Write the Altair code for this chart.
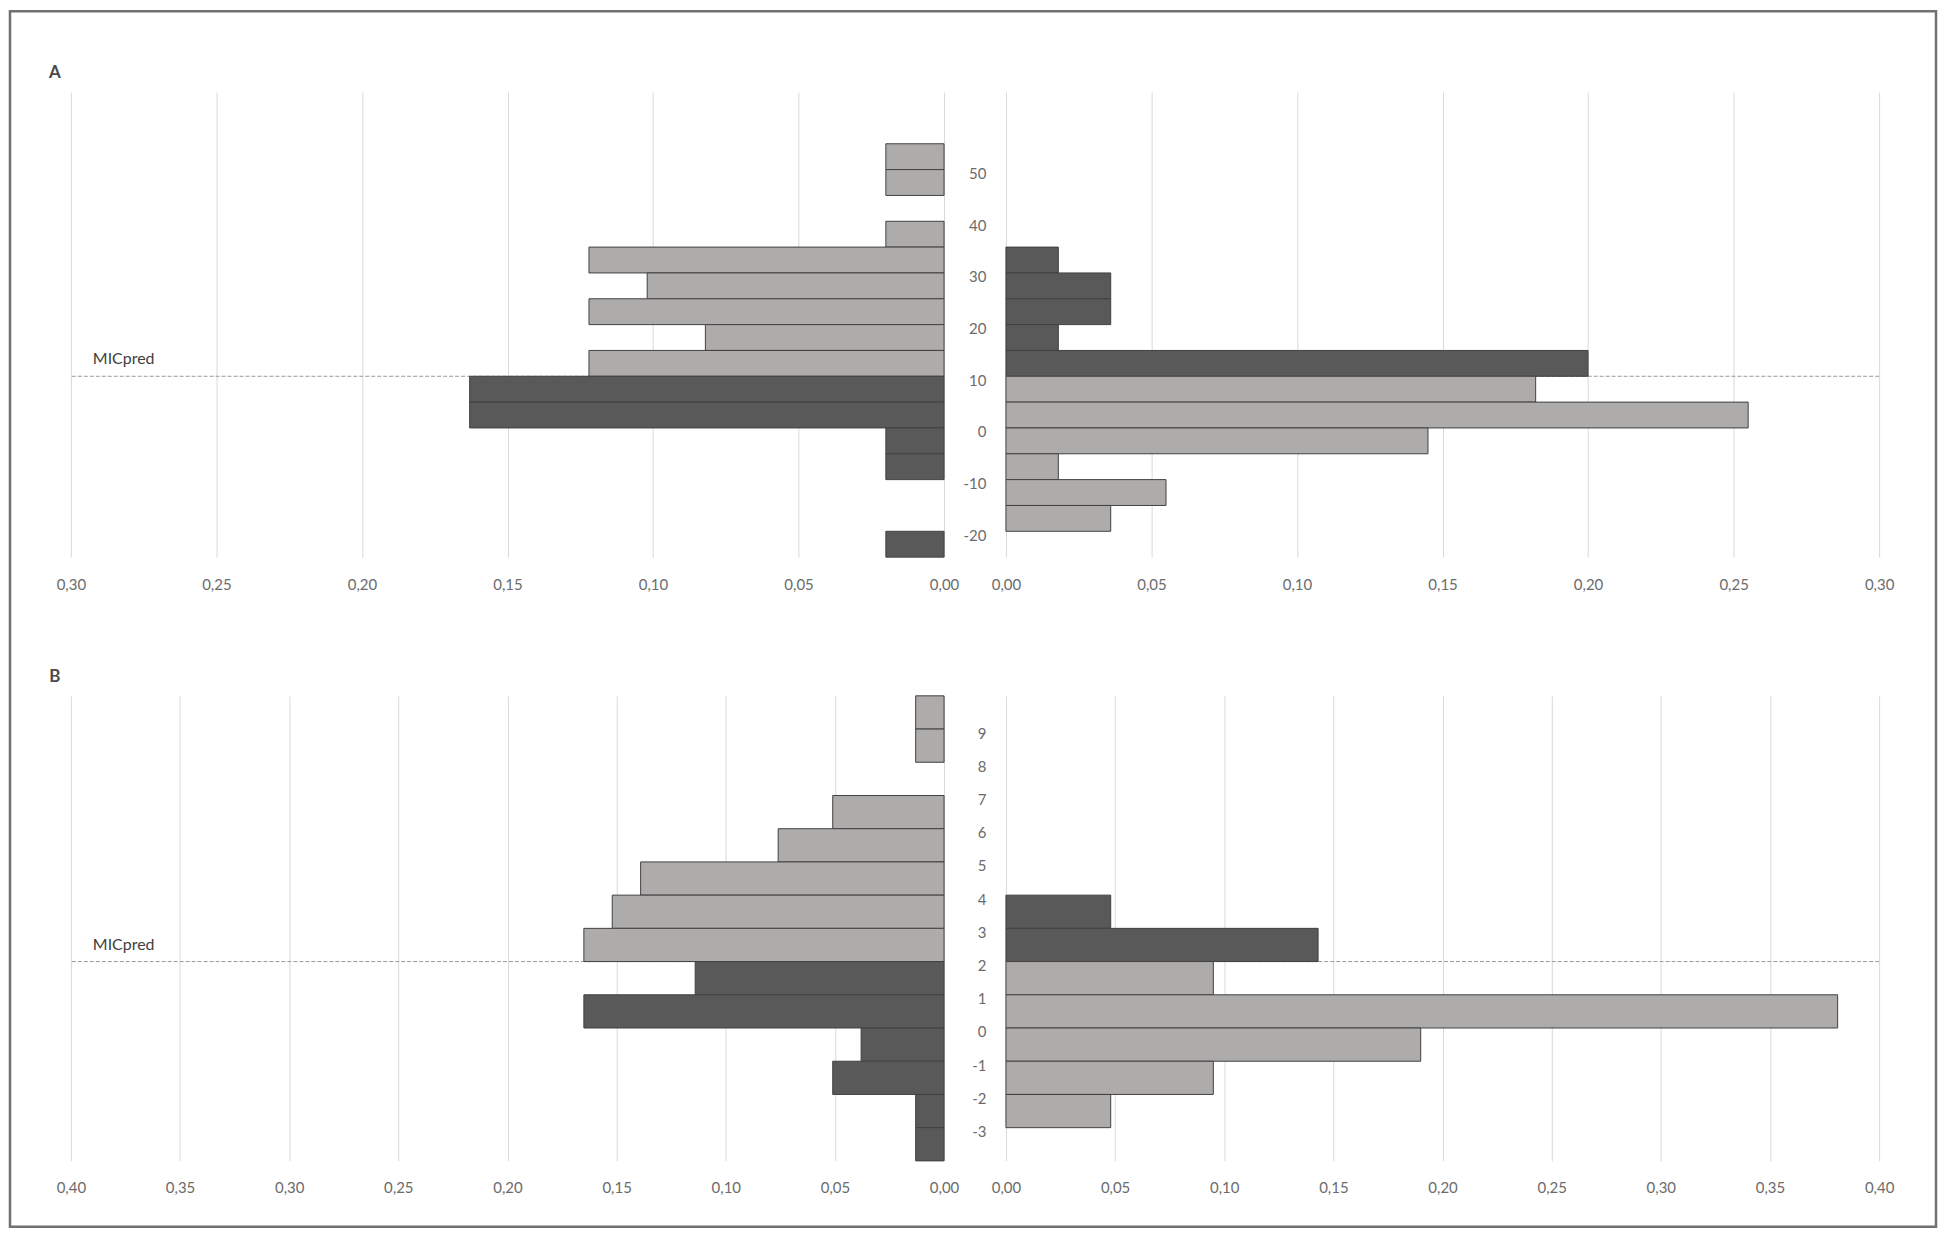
import altair as alt
import pandas as pd

# ---------------- data ----------------
# Panel A: bins of width 5, lower edges (top to bottom)
a_bin_low = [50, 45, 40, 35, 30, 25, 20, 15, 10, 5, 0, -5, -10, -15, -20, -25]
a_left = [0.020, 0.020, 0.0, 0.020, 0.122, 0.102, 0.122, 0.082, 0.122,
          0.163, 0.163, 0.020, 0.020, 0.0, 0.0, 0.020]
a_right = [0.0, 0.0, 0.0, 0.0, 0.018, 0.036, 0.036, 0.018, 0.200,
           0.182, 0.255, 0.145, 0.018, 0.055, 0.036, 0.0]
a_bin_width = 5
a_mic = 10
a_y_domain = [-25, 65]
a_y_ticks = [-20, -10, 0, 10, 20, 30, 40, 50]
a_x_ticks = [0.00, 0.05, 0.10, 0.15, 0.20, 0.25, 0.30]

# Panel B: bins of width 1, lower edges (top to bottom)
b_bin_low = [9, 8, 7, 6, 5, 4, 3, 2, 1, 0, -1, -2, -3, -4]
b_left = [0.013, 0.013, 0.0, 0.051, 0.076, 0.139, 0.152, 0.165, 0.114,
          0.165, 0.038, 0.051, 0.013, 0.013]
b_right = [0.0, 0.0, 0.0, 0.0, 0.0, 0.0, 0.048, 0.143, 0.095,
           0.381, 0.190, 0.095, 0.048, 0.0]
b_bin_width = 1
b_mic = 2
b_y_domain = [-4, 10]
b_y_ticks = [-3, -2, -1, 0, 1, 2, 3, 4, 5, 6, 7, 8, 9]
b_x_ticks = [0.00, 0.05, 0.10, 0.15, 0.20, 0.25, 0.30, 0.35, 0.40]

panel_names = ["A", "B"]
mic_label = "MICpred"

# ---------------- styling ----------------
W, H = 875, 466
LIGHT, DARK = "#AEABAB", "#595959"
FONT = "Lato"
LABEL_COLOR = "#6b6b6b"


def make_side(bins, vals, width, mic, side, x_ticks, y_domain, y_ticks,
              panel=None, border=False):
    rows = []
    for lo, v in zip(bins, vals):
        if v <= 0:
            continue
        above = lo >= mic
        if side == "left":
            shade = "light" if above else "dark"
        else:
            shade = "dark" if above else "light"
        rows.append({"lo": lo, "hi": lo + width, "value": v, "zero": 0.0,
                     "shade": shade})
    df = pd.DataFrame(rows)

    xscale = alt.Scale(domain=[0, x_ticks[-1]], nice=False, zero=True,
                       reverse=(side == "left"))
    xaxis = alt.Axis(values=x_ticks, title=None,
                     labelExpr="replace(format(datum.value, '.2f'), '.', ',')",
                     grid=True, gridColor="#d9d9d9", gridWidth=1,
                     domain=False, ticks=False, tickSize=0, labelPadding=20,
                     labelFontSize=15, labelColor=LABEL_COLOR, labelFont=FONT,
                     labelFlush=False, labelOverlap=False)
    yscale = alt.Scale(domain=y_domain, nice=False, zero=False)
    if side == "right":
        yaxis = alt.Axis(values=y_ticks, title=None, orient="left",
                         labelExpr="datum.value + ''",
                         grid=False, domain=False, ticks=False, tickSize=0,
                         labelPadding=20, labelOffset=4, labelFontSize=15,
                         labelColor=LABEL_COLOR, labelFont=FONT,
                         labelFlush=False, labelOverlap=False)
    else:
        yaxis = None

    mic_df = pd.DataFrame({"mic": [mic], "name": [mic_label]})

    rule = alt.Chart(mic_df).mark_rule(
        color="#9a9a9a", strokeDash=[4, 2], strokeWidth=1
    ).encode(y=alt.Y("mic:Q", scale=yscale, axis=yaxis))

    bars = alt.Chart(df).mark_rect(stroke="#404040", strokeWidth=1).encode(
        x=alt.X("value:Q", scale=xscale, axis=xaxis),
        x2="zero:Q",
        y=alt.Y("lo:Q", scale=yscale, axis=yaxis),
        y2="hi:Q",
        color=alt.Color("shade:N",
                        scale=alt.Scale(domain=["light", "dark"],
                                        range=[LIGHT, DARK]),
                        legend=None),
    )

    layers = [rule, bars]

    if side == "left":
        mic_text = alt.Chart(mic_df).mark_text(
            align="left", baseline="middle", dy=-17, fontSize=16,
            font=FONT, color="#404040"
        ).encode(x=alt.value(22), y=alt.Y("mic:Q", scale=yscale, axis=yaxis),
                 text="name:N")
        layers.append(mic_text)

        if panel is not None:
            ptext = alt.Chart(pd.DataFrame({"p": [panel]})).mark_text(
                align="center", baseline="middle", fontSize=17, font=FONT,
                fontWeight="bold", color="#4a4a4a"
            ).encode(x=alt.value(-16), y=alt.value(-19), text="p:N")
            layers.append(ptext)

    if border:
        frame = alt.Chart(pd.DataFrame({"k": [0]})).mark_rect(
            filled=False, stroke="#707070", strokeWidth=2.5
        ).encode(x=alt.value(-61), x2=alt.value(1869),
                 y=alt.value(-81), y2=alt.value(1137))
        layers.append(frame)

    return alt.layer(*layers).properties(width=W, height=H)


leftA = make_side(a_bin_low, a_left, a_bin_width, a_mic, "left", a_x_ticks,
                  a_y_domain, a_y_ticks, panel=panel_names[0], border=True)
rightA = make_side(a_bin_low, a_right, a_bin_width, a_mic, "right", a_x_ticks,
                   a_y_domain, a_y_ticks)
leftB = make_side(b_bin_low, b_left, b_bin_width, b_mic, "left", b_x_ticks,
                  b_y_domain, b_y_ticks, panel=panel_names[1])
rightB = make_side(b_bin_low, b_right, b_bin_width, b_mic, "right", b_x_ticks,
                   b_y_domain, b_y_ticks)

chart = alt.concat(
    leftA, rightA, leftB, rightB, columns=2,
    spacing={"row": 139, "column": 62},
).properties(
    padding=0, bounds="flush", background="white"
).resolve_scale(
    x="independent", y="independent", color="shared"
).configure_view(stroke=None)

chart.save("out.html", embed_options={"renderer": "svg", "actions": False})
